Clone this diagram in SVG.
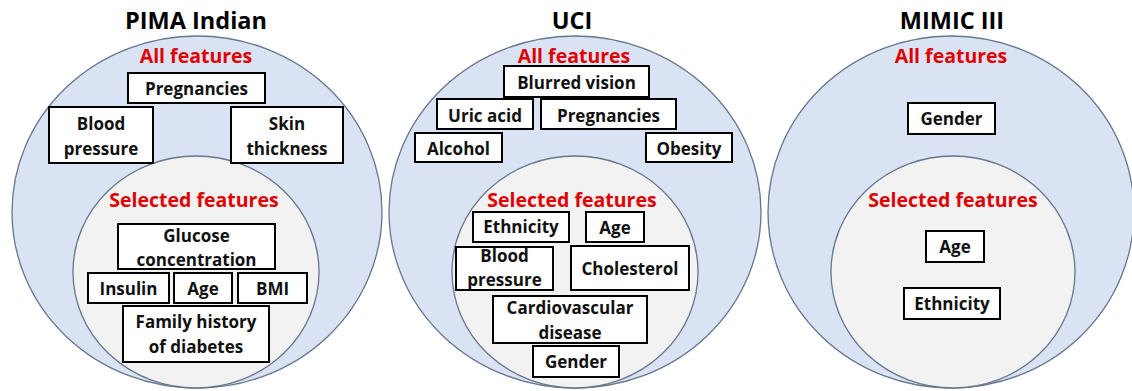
<svg xmlns="http://www.w3.org/2000/svg" width="1132" height="391" viewBox="0 0 1132 391">
<style>
.outer{fill:#dae3f3;stroke:#66768c;stroke-width:1.3}
.inner{fill:#f2f2f2;stroke:#66768c;stroke-width:1.3}
.box{fill:#ffffff;stroke:#000000;stroke-width:2}
.t{font-family:"Open Sans","Liberation Sans",sans-serif;font-weight:bold;font-size:17px;fill:#111;text-anchor:middle}
.title{font-family:"Open Sans","Liberation Sans",sans-serif;font-weight:bold;font-size:23.5px;fill:#000;text-anchor:middle}
.red{font-family:"Open Sans","Liberation Sans",sans-serif;font-weight:bold;font-size:19.5px;fill:#e00000;text-anchor:middle}
</style>
<rect width="1132" height="391" fill="#ffffff"/>

<g id="pima">
<text class="title" x="196" y="29">PIMA Indian</text>
<ellipse class="outer" cx="197" cy="212" rx="185" ry="176"/>
<ellipse class="inner" cx="196" cy="272" rx="123" ry="116"/>
<text class="red" x="196" y="63">All features</text>
<text class="red" x="194" y="207">Selected features</text>
</g>
<g id="pima-pregnancies"><rect class="box" x="128" y="73" width="137" height="30"/><text class="t" x="196.5" y="95">Pregnancies</text></g>
<g id="pima-blood-pressure"><rect class="box" x="49" y="107" width="104" height="56"/><text class="t" x="101" y="130">Blood</text><text class="t" x="101" y="155">pressure</text></g>
<g id="pima-skin-thickness"><rect class="box" x="231" y="107" width="112" height="56"/><text class="t" x="287" y="130">Skin</text><text class="t" x="287" y="155">thickness</text></g>
<g id="pima-glucose"><rect class="box" x="118" y="224" width="157" height="45"/><text class="t" x="196.5" y="242">Glucose</text><text class="t" x="196.5" y="266">concentration</text></g>
<g id="pima-insulin"><rect class="box" x="88" y="273" width="81" height="30"/><text class="t" x="128.5" y="295">Insulin</text></g>
<g id="pima-age"><rect class="box" x="174" y="273" width="58" height="30"/><text class="t" x="203" y="295">Age</text></g>
<g id="pima-bmi"><rect class="box" x="238" y="273" width="69" height="30"/><text class="t" x="272.5" y="295">BMI</text></g>
<g id="pima-family"><rect class="box" x="123" y="306" width="146" height="56"/><text class="t" x="196" y="328">Family history</text><text class="t" x="196" y="353">of diabetes</text></g>

<g id="uci">
<text class="title" x="572" y="29">UCI</text>
<ellipse class="outer" cx="575" cy="212" rx="186" ry="176"/>
<ellipse class="inner" cx="575" cy="272" rx="123" ry="116"/>
<text class="red" x="574" y="63">All features</text>
<text class="red" x="572" y="207">Selected features</text>
</g>
<g id="uci-blurred"><rect class="box" x="504" y="66" width="145" height="31"/><text class="t" x="576.5" y="89">Blurred vision</text></g>
<g id="uci-uric"><rect class="box" x="437" y="99" width="96" height="30"/><text class="t" x="485" y="122">Uric acid</text></g>
<g id="uci-pregnancies"><rect class="box" x="541" y="99" width="135" height="30"/><text class="t" x="608.5" y="122">Pregnancies</text></g>
<g id="uci-alcohol"><rect class="box" x="415" y="133" width="87" height="29"/><text class="t" x="458.5" y="155">Alcohol</text></g>
<g id="uci-obesity"><rect class="box" x="646" y="133" width="86" height="29"/><text class="t" x="689" y="155">Obesity</text></g>
<g id="uci-ethnicity"><rect class="box" x="473" y="212" width="96" height="30"/><text class="t" x="521" y="233">Ethnicity</text></g>
<g id="uci-age"><rect class="box" x="586" y="212" width="58" height="30"/><text class="t" x="615" y="234">Age</text></g>
<g id="uci-blood-pressure"><rect class="box" x="456" y="247" width="97" height="43"/><text class="t" x="504.5" y="262">Blood</text><text class="t" x="504.5" y="286">pressure</text></g>
<g id="uci-cholesterol"><rect class="box" x="571" y="246" width="118" height="44"/><text class="t" x="630" y="275">Cholesterol</text></g>
<g id="uci-cardio"><rect class="box" x="493" y="296" width="154" height="47"/><text class="t" x="570" y="314">Cardiovascular</text><text class="t" x="570" y="339">disease</text></g>
<g id="uci-gender"><rect class="box" x="533" y="346" width="86" height="31"/><text class="t" x="576" y="368">Gender</text></g>

<g id="mimic">
<text class="title" x="952" y="29">MIMIC III</text>
<ellipse class="outer" cx="951" cy="212" rx="183" ry="176"/>
<ellipse class="inner" cx="953" cy="272" rx="122" ry="116"/>
<text class="red" x="951" y="63">All features</text>
<text class="red" x="953" y="207">Selected features</text>
</g>
<g id="mimic-gender"><rect class="box" x="908" y="103" width="87" height="31"/><text class="t" x="951.5" y="125">Gender</text></g>
<g id="mimic-age"><rect class="box" x="926" y="231" width="58" height="31"/><text class="t" x="955" y="253">Age</text></g>
<g id="mimic-ethnicity"><rect class="box" x="904" y="288" width="96" height="31"/><text class="t" x="952" y="310">Ethnicity</text></g>

<g id="connectors"></g>
</svg>
